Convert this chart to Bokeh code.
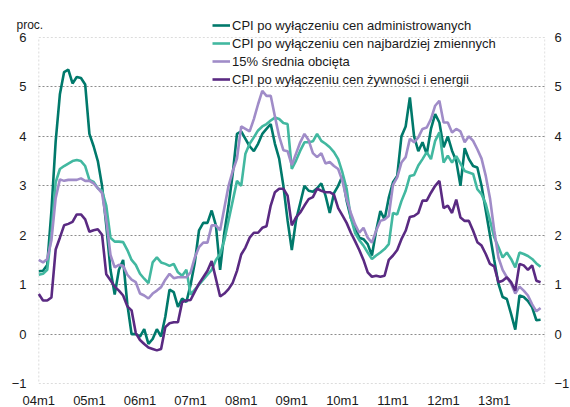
from bokeh.plotting import figure
from bokeh.models import (ColumnDataSource, LinearAxis, FixedTicker, Legend, LegendItem,
                          Label, Range1d, BoxAnnotation)
from bokeh.embed import file_html
from bokeh.resources import INLINE

# ---- data (monthly, 2004m1 .. 2013m12) ----
tick_labels = ["04m1", "05m1", "06m1", "07m1", "08m1", "09m1", "10m1", "11m1", "12m1", "13m1"]
series_names = [
    "CPI po wyłączeniu cen administrowanych",
    "CPI po wyłączeniu cen najbardziej zmiennych",
    "15% średnia obcięta",
    "CPI po wyłączeniu cen żywności i energii",
]

admin = [
    1.27, 1.28, 1.4, 2.5, 3.9, 4.85, 5.3, 5.35, 5.07, 5.2,
    5.18, 5.05, 4.05, 3.8, 3.5, 3.0, 2.2, 1.3, 0.8, 1.3,
    1.5, 0.6, 0.0, 0.0, -0.05, 0.1, -0.2, -0.1, 0.1, -0.05,
    0.35, 0.9, 0.85, 0.55, 0.72, 0.65, 1.0, 1.45, 2.1, 2.25,
    2.25, 2.5, 2.2, 1.3, 2.05, 2.6, 3.25, 4.05, 4.1, 3.95,
    3.8, 3.7, 3.85, 4.05, 4.15, 4.25, 3.85, 3.55, 3.0, 2.3,
    1.7, 2.3, 2.65, 3.0, 2.9, 2.88, 2.95, 3.05, 2.8, 2.45,
    2.85, 3.0, 3.2, 2.7, 2.35, 2.15, 1.95, 1.92, 1.82, 1.59,
    2.09, 2.49, 2.32, 2.76, 3.07, 3.2, 4.0, 4.2, 4.79, 4.0,
    3.7, 3.88, 3.64, 4.15, 4.45, 4.28, 3.78, 4.0, 3.71, 3.5,
    3.0, 3.76, 3.54, 3.4, 3.37, 3.0, 2.5, 2.0, 1.5, 1.02,
    0.75, 0.71, 0.41, 0.09, 0.78, 0.75, 0.67, 0.54, 0.28, 0.29,
]

volatile = [
    1.2, 1.22, 1.3, 2.06, 3.07, 3.34, 3.4, 3.45, 3.5, 3.52,
    3.5, 3.4, 3.12, 3.08, 2.95, 2.9, 2.6, 1.95, 1.87, 1.87,
    1.86, 1.7, 1.5, 1.4, 1.22, 1.12, 1.03, 1.45, 1.55, 1.45,
    1.42, 1.38, 1.42, 1.25, 1.18, 1.3, 0.8, 0.9, 1.0, 1.1,
    1.2, 1.3, 1.5, 1.62, 1.9, 2.3, 2.7, 3.1, 3.0, 3.65,
    3.85, 3.98, 4.12, 4.2, 4.25, 4.32, 4.38, 4.35, 4.27, 4.25,
    3.34, 3.51, 3.71, 3.88, 3.88, 3.9, 4.05, 3.91, 3.85, 3.78,
    3.68, 3.54, 3.27, 2.94, 2.35, 2.05, 1.9, 1.79, 1.65, 1.52,
    1.59, 1.65, 1.72, 1.82, 2.45, 2.42, 2.69, 2.9, 3.2, 3.22,
    3.41, 3.54, 3.68, 3.54, 3.91, 4.08, 3.47, 3.61, 3.47, 3.6,
    3.45, 3.3, 3.27, 3.24, 2.93, 2.83, 2.63, 2.3, 1.96, 1.76,
    1.55, 1.65, 1.52, 1.35, 1.65, 1.62, 1.58, 1.52, 1.43, 1.36,
]

trimmed = [
    1.5, 1.45, 1.52, 1.9, 2.75, 3.13, 3.1, 3.12, 3.12, 3.12,
    3.15, 3.1, 3.1, 3.05, 2.95, 2.85, 2.3, 1.6, 1.35, 1.4,
    1.38, 1.2, 1.1, 1.05, 0.82, 0.78, 0.72, 0.82, 0.88, 0.95,
    1.1, 1.22, 1.13, 1.15, 1.15, 1.15, 1.25, 1.55, 1.76, 1.85,
    1.85, 2.2, 2.2, 2.1, 2.55, 3.0, 3.3, 3.55, 4.2, 4.15,
    4.1, 4.35, 4.65, 4.92, 4.82, 4.82, 4.4, 4.0, 3.72, 3.7,
    3.42, 3.65, 3.88, 4.05, 3.92, 3.66, 3.58, 3.66, 3.45, 3.48,
    3.4, 3.34, 3.1, 2.73, 2.45, 2.22, 2.05, 2.15, 1.95, 1.85,
    2.09, 2.29, 2.32, 2.39, 3.02, 3.17, 3.47, 3.58, 3.95, 3.88,
    3.98, 4.15, 4.18, 4.35, 4.62, 4.72, 4.28, 4.28, 4.08, 4.15,
    4.1, 3.88, 4.0, 3.91, 3.74, 3.55, 3.2, 2.75, 2.1, 1.55,
    1.3, 1.15, 1.02, 0.82, 0.96, 0.88, 0.78, 0.6, 0.46, 0.53,
]

food_energy = [
    0.81, 0.68, 0.68, 0.74, 1.71, 1.95, 2.2, 2.23, 2.27, 2.42,
    2.42, 2.32, 2.07, 2.1, 2.12, 2.01, 1.21, 1.09, 0.96, 0.88,
    0.78, 0.56, 0.48, 0.02, -0.12, -0.2, -0.27, -0.3, -0.33, -0.3,
    0.14, 0.22, 0.24, 0.24, 0.65, 0.68, 0.69, 0.86, 1.02, 1.15,
    1.28, 1.48, 1.12, 0.76, 0.82, 0.91, 1.04, 1.28, 1.61, 1.75,
    1.95, 2.05, 2.05, 2.15, 2.18, 2.6, 2.87, 2.94, 2.94, 2.8,
    2.2, 2.36, 2.46, 2.6, 2.73, 2.77, 2.94, 2.9, 2.87, 2.87,
    2.82, 2.55, 2.4, 2.25, 2.05, 1.88, 1.7, 1.5, 1.25, 1.16,
    1.18, 1.16, 1.18, 1.5, 1.59, 1.7, 1.92, 2.09, 2.37, 2.39,
    2.45, 2.7, 2.7, 2.86, 3.0, 3.1, 2.55, 2.6, 2.45, 2.72,
    2.36, 2.29, 2.29, 2.09, 1.86, 1.79, 1.62, 1.42, 1.37, 1.05,
    1.08, 1.15, 1.05, 0.88, 1.42, 1.39, 1.3, 1.39, 1.08, 1.05,
]

colors = ["#00796B", "#42B8A0", "#A08CC8", "#5A2A82"]

FONT = "Liberation Sans"
n = len(admin)
months = list(range(n))
yticks = list(range(-1, 7))
src = ColumnDataSource(dict(m=months, a=admin, v=volatile, t=trimmed, f=food_energy))

p = figure(frame_width=531, frame_height=372, output_backend="svg", toolbar_location=None,
           x_range=Range1d(-5.763, n + 0.166), y_range=Range1d(-1.02, 6.506),
           min_border_left=14, min_border_top=12, min_border_right=24, min_border_bottom=23)
p.background_fill_color = "white"
p.border_fill_color = "white"
p.outline_line_color = None

# dotted box around the value area (-1..6, first..last month)
p.add_layout(BoxAnnotation(left=months[0], right=n, bottom=min(yticks), top=max(yticks),
                           fill_alpha=0, line_color="#8c8c8c", line_dash="2 2", line_width=1,
                           level="underlay"))

renderers = []
for col, c in zip(["a", "v", "t", "f"], colors):
    r = p.line("m", col, source=src, line_color=c, line_width=2.6)
    renderers.append(r)

# axes
p.yaxis[0].ticker = FixedTicker(ticks=yticks)
right = LinearAxis(ticker=FixedTicker(ticks=yticks))
p.add_layout(right, "right")
for ax in [p.yaxis[0], right, p.xaxis[0]]:
    ax.axis_line_color = None
    ax.major_tick_line_color = None
    ax.minor_tick_line_color = None
    ax.major_tick_out = 0
    ax.major_tick_in = 0
    ax.minor_tick_out = 0
    ax.major_label_text_font = FONT
    ax.major_label_text_font_size = "13px"
    ax.major_label_text_color = "#1a1a1a"
p.yaxis[0].major_label_standoff = -12
right.major_label_standoff = 9

xt = [12 * i for i in range(len(tick_labels))]
p.xaxis.ticker = FixedTicker(ticks=xt)
p.xaxis.major_label_overrides = {t: lab for t, lab in zip(xt, tick_labels)}
p.xaxis.major_label_standoff = 8

p.xgrid.grid_line_color = None
p.ygrid.ticker = FixedTicker(ticks=yticks[1:-1])
p.ygrid.cross_bounds = (months[0], n)
p.ygrid.grid_line_color = "#8c8c8c"
p.ygrid.grid_line_dash = "2 2"
p.ygrid.grid_line_width = 1

legend = Legend(items=[LegendItem(label=nm, renderers=[r]) for nm, r in zip(series_names, renderers)],
                location=(198, 296), padding=0, margin=0, spacing=0,
                glyph_width=18, glyph_height=18, label_height=18, label_standoff=2,
                label_text_font=FONT, label_text_font_size="13px", label_text_color="#1a1a1a",
                border_line_alpha=0, background_fill_alpha=0)
p.add_layout(legend)

p.add_layout(Label(x=2, y=360, x_units="screen", y_units="screen", text="proc.",
                   text_font=FONT, text_font_size="12px", text_color="#1a1a1a",
                   text_baseline="alphabetic"))

open("out.html", "w").write(file_html(p, INLINE))
